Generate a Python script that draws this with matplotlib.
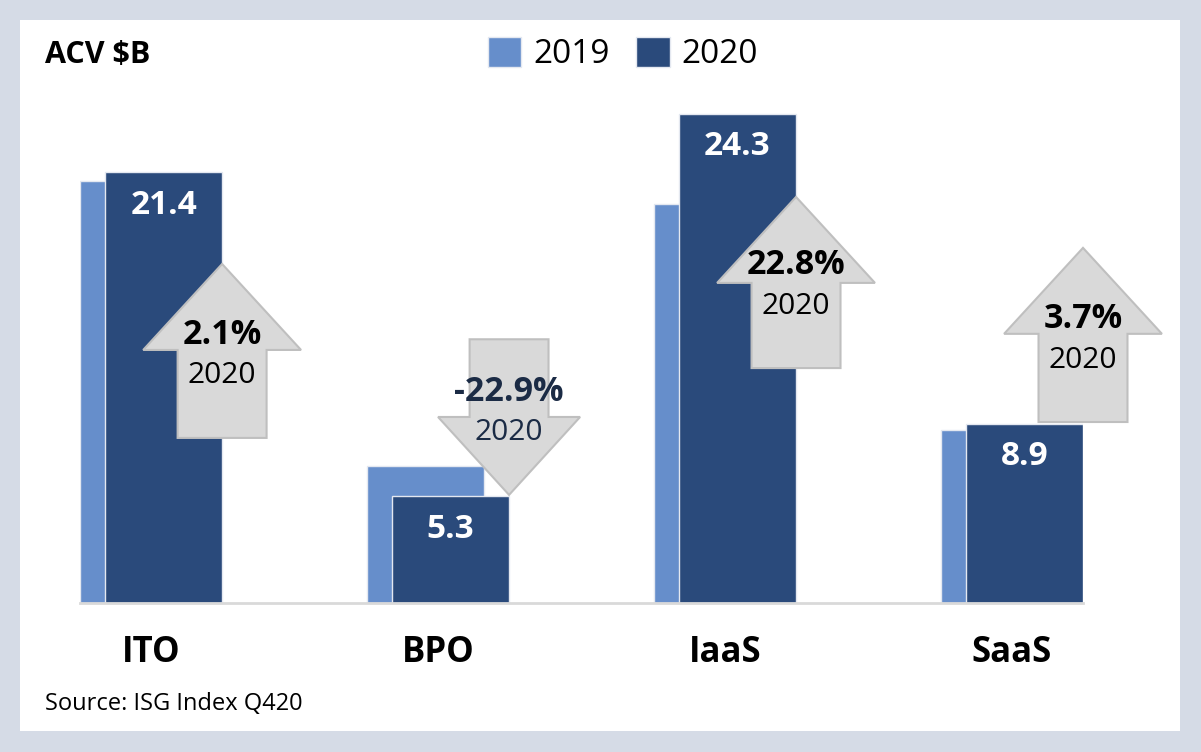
import matplotlib
matplotlib.use('Agg')
import matplotlib.pyplot as plt
from matplotlib.patches import Polygon, Rectangle

# ---------------- data ----------------
categories = ['ITO', 'BPO', 'IaaS', 'SaaS']
acv_2019 = [20.95, 6.8, 19.8, 8.6]
acv_2020 = [21.4, 5.3, 24.3, 8.9]
value_labels_2020 = ['21.4', '5.3', '24.3', '8.9']
growth_labels = ['2.1%', '-22.9%', '22.8%', '3.7%']
growth_years = ['2020', '2020', '2020', '2020']
series_names = ['2019', '2020']
title_text = 'ACV \\$B'
source_text = 'Source: ISG Index Q420'

# ---------------- layout / style ----------------
W, H = 1201, 752
DPI = 100
C19 = '#668ECB'
C20 = '#2A4A7B'
BORDER = '#D5DBE6'
ARROW_FACE = '#D9D9D9'
ARROW_EDGE = '#BFBFBF'

bar_w = 0.408
off = 0.0436
# arrow layout (data units): start of shaft and tip
arrow_base = [8.2, 13.1, 11.67, 8.99]
arrow_tip = [16.84, 5.37, 20.17, 17.64]
arrow_shaft_w = [0.31, 0.275, 0.31, 0.31]
arrow_head_w = [0.55, 0.495, 0.55, 0.55]
arrow_head_len = [4.27, 3.87, 4.27, 4.27]
arrow_text_col = ['black', '#1B2B45', 'black', 'black']

plt.rcParams['font.family'] = ['Open Sans', 'DejaVu Sans']

fig = plt.figure(figsize=(W / DPI, H / DPI), dpi=DPI, facecolor=BORDER)
# white panel
fig.patches.append(Rectangle((20 / W, (H - 731) / H), 1160 / W, 711 / H,
                             transform=fig.transFigure, facecolor='white',
                             edgecolor='none', zorder=-10))

ax_l, ax_r, ax_b, ax_t = 80, 1083, 603, 99.7
ax = fig.add_axes([ax_l / W, (H - ax_b) / H, (ax_r - ax_l) / W, (ax_b - ax_t) / H])
ax.set_zorder(1)
ax.set_facecolor('none')
xlim = (-off - bar_w / 2, 3 + off + bar_w / 2)
ax.set_xlim(*xlim)
ax.set_ylim(0, 25)

x = list(range(len(categories)))
x19 = [i - off for i in x]
x20 = [i + off for i in x]
ax.bar(x19, acv_2019, width=bar_w, color=C19, edgecolor='#E4E8F0', linewidth=1, zorder=2)
ax.bar(x20, acv_2020, width=bar_w, color=C20, edgecolor='#E4E8F0', linewidth=1, zorder=3)

for s in ['top', 'right', 'left']:
    ax.spines[s].set_visible(False)
ax.spines['bottom'].set_color('#D9D9D9')
ax.spines['bottom'].set_linewidth(2)
ax.spines['bottom'].set_zorder(4)
ax.set_xticks([])
ax.set_yticks([])

px2pt = 72.0 / DPI

# value labels inside 2020 bars
for xi, v, lab in zip(x20, acv_2020, value_labels_2020):
    ax.annotate(lab, xy=(xi, v), xytext=(0, -33 * px2pt), textcoords='offset points',
                ha='center', va='center', color='white', fontsize=24,
                fontweight='bold', zorder=6)

# category labels
for xi, cat in zip(x, categories):
    ax.annotate(cat, xy=(xi, 0), xytext=(0, -50 * px2pt), textcoords='offset points',
                ha='center', va='center', color='black', fontsize=25,
                fontweight='bold', annotation_clip=False)

# block arrows
for i in range(len(categories)):
    xc = x20[i] + bar_w / 2
    base, tip = arrow_base[i], arrow_tip[i]
    d = 1 if tip > base else -1
    hb = tip - d * arrow_head_len[i]
    sw, hw = arrow_shaft_w[i] / 2, arrow_head_w[i] / 2
    pts = [(xc - sw, base), (xc - sw, hb), (xc - hw, hb), (xc, tip),
           (xc + hw, hb), (xc + sw, hb), (xc + sw, base)]
    ax.add_patch(Polygon(pts, closed=True, facecolor=ARROW_FACE,
                         edgecolor=ARROW_EDGE, linewidth=1.5, zorder=5,
                         clip_on=False))
    low = min(base, tip)
    ax.annotate(growth_labels[i], xy=(xc, low), xytext=(0, 103 * px2pt),
                textcoords='offset points', ha='center', va='center',
                fontsize=24.5, fontweight='bold', color=arrow_text_col[i], zorder=7)
    ax.annotate(growth_years[i], xy=(xc, low), xytext=(0, 62 * px2pt),
                textcoords='offset points', ha='center', va='center',
                fontsize=21.5, color=arrow_text_col[i], zorder=7)

# title, source
fig.text(45 / W, 1 - 55 / H, title_text, ha='left', va='center', fontsize=22,
         fontweight='bold', color='black')
fig.text(45 / W, 1 - 704 / H, source_text, ha='left', va='center', fontsize=17,
         color='black')

# legend
handles = [Rectangle((0, 0), 1, 1, facecolor=C19, edgecolor='#E4E8F0'),
           Rectangle((0, 0), 1, 1, facecolor=C20, edgecolor='#E4E8F0')]
fig.legend(handles, series_names, loc='center', bbox_to_anchor=(623 / W, 1 - 54 / H),
           ncol=2, frameon=False, fontsize=24, handlelength=1.0, handleheight=1.0,
           handletextpad=0.36, columnspacing=0.8, borderpad=0, borderaxespad=0)

fig.savefig('out.png', dpi=DPI, facecolor=BORDER)
